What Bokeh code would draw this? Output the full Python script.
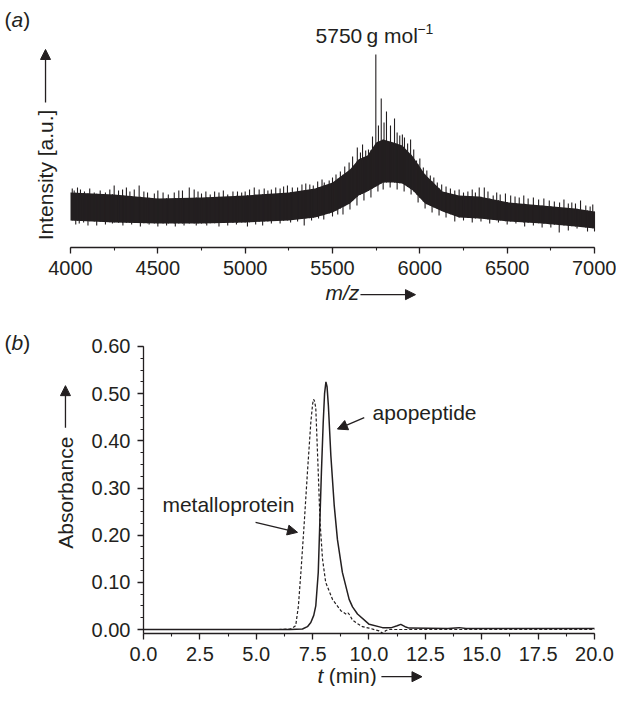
import numpy as np
from bokeh.plotting import figure
from bokeh.models import (Range1d, SingleIntervalTicker, NumeralTickFormatter,
                          Label, Arrow, NormalHead, LinearAxis)
from bokeh.layouts import column
from bokeh.embed import file_html
from bokeh.resources import INLINE

INK = "#231f20"
FONT = "Liberation Sans"
FS = "20px"
FA = "21px"

# ---------------- Panel (a): mass spectrum (intensity in a.u.) ----------------
mz_env = [4000, 4250, 4500, 4750, 5000, 5250, 5400, 5500, 5600, 5650, 5700,
          5750, 5790, 5850, 5900, 5960, 6030, 6130, 6225, 6340, 6510, 6700,
          6890, 7000]
upper_env = [26.8, 25.9, 23.9, 24.4, 25.4, 26.8, 28.8, 31.7, 38.0, 43.0, 44.9,
             51.2, 52.7, 51.2, 49.8, 44.4, 35.6, 27.3, 25.4, 24.9, 22.0, 20.5,
             19.0, 17.6]
lower_env = [13.2, 12.2, 11.7, 11.7, 12.2, 13.2, 14.6, 17.1, 21.5, 25.4, 27.3,
             29.8, 31.7, 31.7, 31.2, 27.8, 21.5, 17.6, 14.6, 14.1, 12.7, 11.7,
             10.2, 9.3]
spike_mz = [4010, 4021, 4040, 4057, 4080, 4110, 4136, 4170, 4200, 4225, 4250,
            4275, 4298, 4320, 4340, 4365, 4393, 4420, 4441, 4480, 4500, 4530,
            4560, 4594, 4620, 4641, 4680, 4708, 4730, 4750, 4775, 4800, 4825,
            4850, 4875, 4900, 4930, 4956, 4980, 5000, 5025, 5052, 5080, 5109,
            5130, 5150, 5175, 5200, 5220, 5242, 5270, 5300, 5325, 5347, 5370,
            5390, 5415, 5440, 5453, 5481, 5500, 5520, 5545, 5570, 5595, 5615,
            5642, 5660, 5672, 5690, 5706, 5729, 5748, 5763, 5779, 5795, 5809,
            5832, 5855, 5870, 5885, 5900, 5912, 5930, 5947, 5965, 5981, 6000,
            6020, 6040, 6060, 6080, 6100, 6125, 6150, 6175, 6200, 6225, 6250,
            6275, 6300, 6318, 6340, 6369, 6390, 6420, 6440, 6460, 6490, 6520,
            6545, 6569, 6595, 6620, 6650, 6680, 6710, 6741, 6770, 6800, 6825,
            6850, 6870, 6891, 6920, 6950, 6975, 6990]
spike_top = [28.8, 27.8, 29.3, 28.3, 27.3, 28.8, 26.8, 27.8, 26.8, 28.3, 30.2,
             27.8, 28.3, 29.3, 27.3, 28.3, 30.2, 27.3, 26.8, 26.3, 27.8, 26.8,
             25.9, 26.8, 27.8, 27.8, 29.3, 28.3, 27.3, 26.3, 27.3, 25.9, 27.3,
             26.8, 27.8, 25.9, 27.3, 27.3, 26.8, 27.3, 28.3, 29.3, 28.3, 28.8,
             27.8, 28.3, 29.3, 28.8, 29.8, 30.2, 29.3, 29.3, 30.7, 31.2, 30.7,
             30.2, 32.2, 33.2, 31.7, 32.7, 34.1, 35.6, 37.1, 39.5, 41.5, 44.4,
             48.8, 46.3, 50.2, 47.3, 47.8, 54.1, 94.1, 59.5, 72.7, 61.0, 66.3,
             59.5, 62.9, 56.1, 54.6, 55.1, 53.7, 50.7, 52.7, 47.8, 42.4, 43.4,
             39.0, 37.6, 35.1, 34.1, 31.7, 30.7, 29.8, 28.8, 27.8, 28.3, 26.8,
             27.3, 28.3, 26.8, 29.3, 29.3, 27.3, 25.4, 26.8, 25.9, 26.3, 25.4,
             24.9, 24.4, 25.4, 23.9, 24.4, 23.4, 23.9, 22.9, 22.4, 22.0, 23.4,
             21.5, 22.0, 21.5, 22.9, 20.5, 20.0, 21.0]
dip_mz = [4030, 4050, 4075, 4100, 4150, 4200, 4240, 4275, 4300, 4350, 4400,
          4450, 4500, 4550, 4600, 4650, 4720, 4780, 4850, 4900, 4950, 5013,
          5060, 5100, 5150, 5200, 5260, 5300, 5338, 5380, 5420, 5450, 5500,
          5530, 5560, 5600, 5640, 5680, 5720, 5760, 5790, 5830, 5870, 5910,
          5950, 5990, 6030, 6070, 6110, 6150, 6200, 6250, 6300, 6350, 6400,
          6450, 6500, 6550, 6600, 6650, 6700, 6750, 6798, 6850, 6900, 6960,
          7000]
dip_bottom = [11.2, 11.7, 12.2, 10.7, 10.7, 11.2, 11.7, 12.2, 10.7, 11.2, 10.2,
              11.2, 10.2, 10.7, 10.2, 10.7, 10.7, 10.7, 10.2, 10.7, 11.2, 10.2,
              11.2, 10.7, 11.7, 11.7, 12.2, 12.7, 10.7, 13.2, 14.1, 13.7, 15.1,
              16.1, 16.1, 18.5, 20.5, 22.9, 24.4, 27.3, 28.3, 29.3, 28.3, 27.3,
              25.9, 22.0, 19.0, 17.1, 15.6, 14.6, 12.7, 13.2, 12.2, 12.7, 11.7,
              12.2, 11.2, 11.7, 10.2, 10.7, 9.8, 9.8, 7.3, 8.3, 9.3, 7.8, 7.8]

# ---------------- Panel (b): chromatograms ----------------
t_metallo = [0.0, 6.0, 6.5, 6.6, 6.75, 6.87, 6.98, 7.13, 7.27, 7.42, 7.50, 7.54,
             7.58, 7.64, 7.75, 7.83, 7.94, 8.08, 8.38, 8.75, 9.0, 9.08, 9.15,
             9.27, 9.5, 9.71, 10.0, 10.45, 10.6, 10.75, 10.9, 20.0]
a_metallo = [0.0, 0.0, 0.001, 0.003, 0.008, 0.05, 0.121, 0.227, 0.333, 0.439,
             0.478, 0.488, 0.485, 0.470, 0.333, 0.227, 0.149, 0.100, 0.064,
             0.040, 0.032, 0.035, 0.030, 0.020, 0.012, 0.006, 0.003, -0.003,
             -0.008, -0.002, 0.0, 0.0]
t_apo = [0.0, 6.5, 7.05, 7.27, 7.42, 7.55, 7.64, 7.75, 7.82, 7.89, 7.97, 8.03,
         8.09, 8.14, 8.20, 8.31, 8.46, 8.60, 8.82, 9.12, 9.27, 9.49, 10.01,
         10.6, 11.0, 11.25, 11.41, 11.6, 11.78, 13.5, 14.0, 14.3, 20.0]
a_apo = [0.0, 0.0, 0.001, 0.006, 0.015, 0.03, 0.05, 0.121, 0.227, 0.333, 0.439,
         0.50, 0.525, 0.515, 0.474, 0.368, 0.262, 0.191, 0.121, 0.064, 0.048,
         0.033, 0.011, 0.004, 0.004, 0.008, 0.011, 0.006, 0.003, 0.002, 0.004,
         0.002, 0.002]


def style_axis(ax, interval, minor):
    ax.ticker = SingleIntervalTicker(interval=interval, num_minor_ticks=minor)
    ax.axis_line_color = INK
    ax.axis_line_width = 1.3
    ax.major_tick_line_color = INK
    ax.major_tick_line_width = 1.3
    ax.minor_tick_line_color = INK
    ax.minor_tick_line_width = 1.1
    ax.major_tick_in = 0
    ax.major_tick_out = 6
    ax.minor_tick_in = 0
    ax.minor_tick_out = 3
    ax.major_label_text_font = FONT
    ax.major_label_text_font_size = FS
    ax.major_label_text_color = INK
    ax.major_label_standoff = 7


def add_label(p, x, y, text, size=FA, style="normal", angle=0, align="left"):
    p.add_layout(Label(x=x, y=y, text=text, text_font=FONT, text_font_size=size,
                       text_font_style=style, text_color=INK, angle=angle,
                       text_align=align, text_baseline="middle"))


def add_arrow(p, x0, y0, x1, y1, size=10):
    p.add_layout(Arrow(end=NormalHead(size=size, fill_color=INK, line_color=INK,
                                      line_width=1),
                       x_start=x0, y_start=y0, x_end=x1, y_end=y1,
                       line_color=INK, line_width=1.3))


def bare_figure(w, h, xr, yr):
    p = figure(width=w, height=h, x_range=Range1d(*xr), y_range=Range1d(*yr),
               x_axis_location=None, y_axis_location=None,
               output_backend="svg", toolbar_location=None,
               min_border=0, min_border_left=0, min_border_right=0,
               min_border_top=0, min_border_bottom=0)
    p.outline_line_color = None
    p.grid.visible = False
    return p


W = 616
# frame covers the whole canvas; axes are placed at fixed data locations
pa = bare_figure(W, 310, (3599.2, 7125.9), (-30.73, 120.49))
ax_a = LinearAxis(fixed_location=0, bounds=(4000, 7000))
style_axis(ax_a, 500, 2)
ax_a.formatter = NumeralTickFormatter(format="0")
pa.add_layout(ax_a, "below")

pa.varea(x=mz_env, y1=lower_env, y2=upper_env, fill_color=INK)
spike_base = list(np.interp(spike_mz, mz_env, lower_env))
pa.segment(x0=spike_mz, y0=spike_base, x1=spike_mz, y1=spike_top,
           line_color=INK, line_width=1.1)
dip_base = list(np.interp(dip_mz, mz_env, upper_env))
pa.segment(x0=dip_mz, y0=dip_base, x1=dip_mz, y1=dip_bottom,
           line_color=INK, line_width=1.1)

add_label(pa, 3622, 111.2, "(")
add_label(pa, 3662, 111.2, "a", style="italic")
add_label(pa, 3729, 111.2, ")")
add_label(pa, 5403, 103.4, "5750\u2009g mol")
add_label(pa, 5985, 106.5, "\u22121", size="14px")
add_label(pa, 3857, 35.4, "Intensity [a.u.]", angle=np.pi / 2, align="center")
add_arrow(pa, 3857, 70.7, 3857, 96.6)
add_label(pa, 5460, -22.0, "m/z", style="italic")
add_arrow(pa, 5660, -23.0, 5975, -23.0)

pb = bare_figure(W, 376, (-6.341, 20.976), (-0.1208, 0.6763))
ax_bx = LinearAxis(fixed_location=-0.0085, bounds=(0, 20))
style_axis(ax_bx, 2.5, 2)
ax_bx.formatter = NumeralTickFormatter(format="0.0")
pb.add_layout(ax_bx, "below")
ax_by = LinearAxis(fixed_location=0, bounds=(-0.0085, 0.6001))
style_axis(ax_by, 0.1, 4)
ax_by.formatter = NumeralTickFormatter(format="0.00")
pb.add_layout(ax_by, "left")

pb.line(x=t_apo, y=a_apo, line_color=INK, line_width=1.5)
pb.line(x=t_metallo, y=a_metallo, line_color=INK, line_width=1.2, line_dash="3 2")

add_label(pb, -6.16, 0.608, "(")
add_label(pb, -5.85, 0.608, "b", style="italic")
add_label(pb, -5.33, 0.608, ")")
add_label(pb, -3.46, 0.290, "Absorbance", angle=np.pi / 2, align="center")
add_arrow(pb, -3.46, 0.428, -3.46, 0.517)
add_label(pb, 0.84, 0.266, "metalloprotein")
add_arrow(pb, 4.97, 0.227, 6.83, 0.206)
add_label(pb, 10.16, 0.46, "apopeptide")
add_arrow(pb, 9.79, 0.449, 8.60, 0.425)
add_label(pb, 7.72, -0.0975, "t", style="italic")
add_label(pb, 8.22, -0.0975, "(min)")
add_arrow(pb, 10.55, -0.1, 12.35, -0.1)

layout = column(pa, pb)
open("out.html", "w").write(file_html(layout, INLINE))
